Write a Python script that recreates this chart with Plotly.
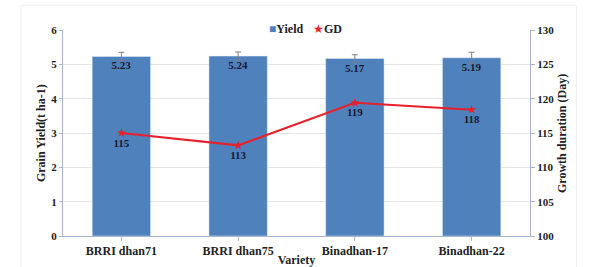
import plotly.graph_objects as go

varieties = ["BRRI dhan71", "BRRI dhan75", "Binadhan-17", "Binadhan-22"]
yield_vals = [5.23, 5.24, 5.17, 5.19]
yield_err = [0.12, 0.12, 0.11, 0.16]
gd_vals = [115.0, 113.2, 119.4, 118.4]
gd_labels = ["115", "113", "119", "118"]

FONT = "Liberation Serif"
BLUE = "#4f81bd"
RED = "#e8202a"
fig = go.Figure()
fig.add_trace(go.Bar(
    x=varieties, y=yield_vals, name="Yield",
    marker=dict(color=BLUE), width=0.5,
    error_y=dict(type="data", array=yield_err, color="#7f7f7f", thickness=1, width=3),
    text=[f"<b>{v:.2f}</b>" for v in yield_vals], textposition="inside",
    insidetextanchor="end", textangle=0,
    textfont=dict(family=FONT, size=11, color="#1a1a2e"),
))
fig.add_trace(go.Scatter(
    x=varieties, y=gd_vals, name="GD", yaxis="y2",
    mode="lines+markers+text",
    line=dict(color=RED, width=2),
    marker=dict(symbol="star", size=7, color=RED),
    text=[f"<b>{t}</b>" for t in gd_labels], textposition="bottom center",
    textfont=dict(family=FONT, size=11, color="#1a1a2e"),
))
fig.update_layout(
    width=597, height=267,
    margin=dict(l=63, r=67, t=30, b=31, autoexpand=False),
    paper_bgcolor="white", plot_bgcolor="white",
    font=dict(family=FONT, size=11, color="#222"),
    showlegend=False,
    xaxis=dict(showline=True, linecolor="#a6b5cc", ticks="outside", tickcolor="#a6b5cc",
               ticklen=4, automargin=False,
               tickfont=dict(family=FONT, size=12, color="#222"),
               title=dict(text="<b>Variety</b>", standoff=3, font=dict(family=FONT, size=12)),
               tickprefix="<b>", ticksuffix="</b>"),
    yaxis=dict(range=[0, 6], dtick=1, showline=True, linecolor="#a6b5cc", ticks="outside",
               tickcolor="#a6b5cc", ticklen=3, gridcolor="#e6e6e6", automargin=False,
               tickprefix="<b>", ticksuffix="</b>",
               tickfont=dict(family=FONT, size=11, color="#222")),
    yaxis2=dict(range=[100, 130], dtick=5, overlaying="y", side="right", showline=True,
                linecolor="#a6b5cc", ticks="outside", tickcolor="#a6b5cc", ticklen=4,
                showgrid=False, automargin=False, tickprefix="<b>", ticksuffix="</b>",
                tickfont=dict(family=FONT, size=11, color="#222")),
)
# axis titles
fig.add_annotation(text="<b>Grain Yield(t ha-1)</b>", xref="paper", yref="paper",
                   x=-0.047, y=0.5, xanchor="center", yanchor="middle",
                   textangle=-90, showarrow=False,
                   font=dict(family=FONT, size=12, color="#222"))
fig.add_annotation(text="<b>Growth duration (Day)</b>", xref="paper", yref="paper",
                   x=1.0685, y=0.5, xanchor="center", yanchor="middle",
                   textangle=-90, showarrow=False,
                   font=dict(family=FONT, size=12, color="#222"))
# legend
fig.add_annotation(text=f"<span style='color:{BLUE}'>■</span><b>Yield</b>", xref="paper",
                   yref="paper", x=0.437, y=1.0485, xanchor="left", showarrow=False,
                   font=dict(family=FONT, size=12, color="#222"))
fig.add_annotation(text=f"<span style='color:{RED}'>★</span><b>GD</b>", xref="paper",
                   yref="paper", x=0.532, y=1.0485, xanchor="left", showarrow=False,
                   font=dict(family=FONT, size=12, color="#222"))
fig.add_shape(type="rect", xref="paper", yref="paper", x0=-0.09, x1=1.1, y0=-0.3, y1=1.12,
              line=dict(color="#eeeeee", width=1), fillcolor="rgba(0,0,0,0)", layer="below")
fig.write_html("out.html", post_script="document.body.style.margin='0';",
               config={"displayModeBar": False})
